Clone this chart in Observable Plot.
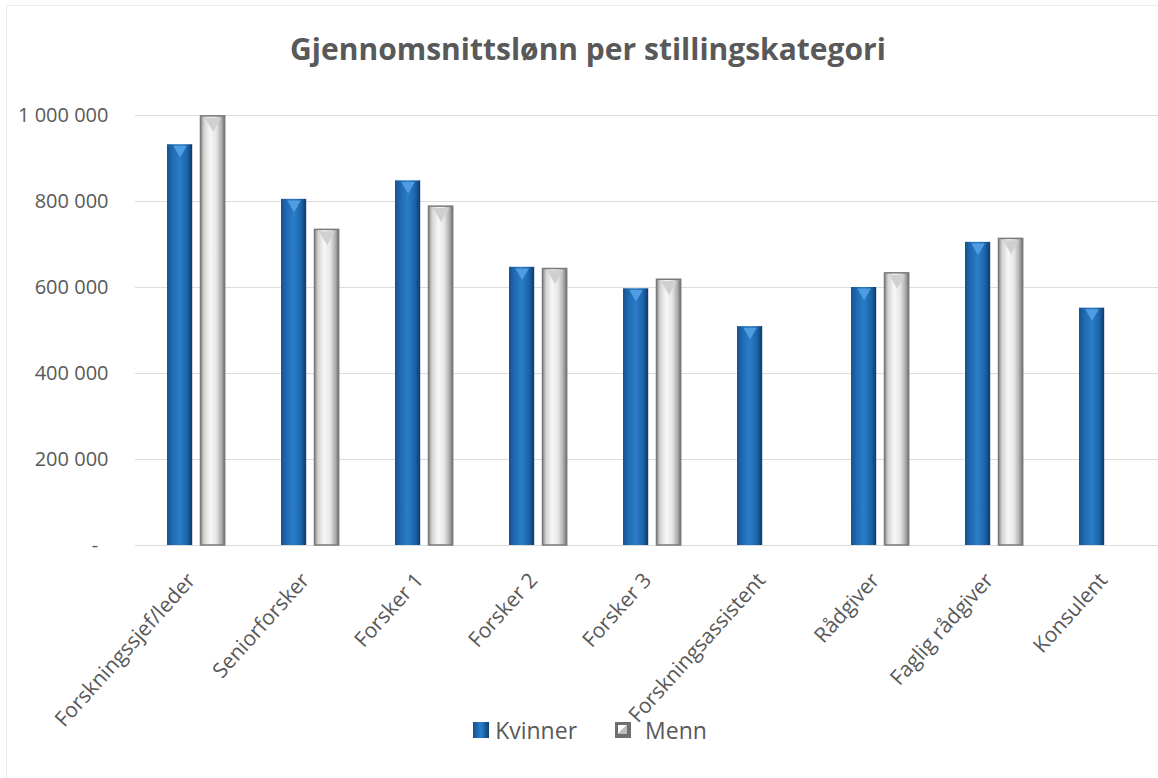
<!DOCTYPE html>
<html>
<head>
<meta charset="utf-8">
<script src="https://cdn.jsdelivr.net/npm/d3@7"></script>
<script src="https://cdn.jsdelivr.net/npm/@observablehq/plot@0.6"></script>
<style>
  html, body { margin: 0; padding: 0; background: #fff; }
  body { width: 1158px; height: 778px; overflow: hidden; position: relative; font-family: "Open Sans", sans-serif; }
  #frame { position: absolute; left: 6px; top: 5px; width: 1160px; height: 780px; border: 1px solid #ececec; pointer-events: none; }
  #title { height: 90px; box-sizing: border-box; padding-top: 30px; padding-left: 18px; text-align: center; font-size: 30px; font-weight: 700; color: #595959; line-height: 38px; }
  #chart { height: 620px; position: relative; z-index: 1; }
  #chart svg { overflow: visible; }
  #legend { display: flex; justify-content: center; align-items: center; gap: 0; height: 40px; font-size: 23px; color: #595959; margin-left: 22px; }
  .sw { width: 16px; height: 16px; display: inline-block; margin-right: 6px; }
  .sw.k { background: linear-gradient(90deg, #14508c, #2a80cc 50%, #0f3f70); }
  .sw.m { background: #6f6f6f; position: relative; margin-left: 38px; margin-right: 14px; }
  .sw.m::after { content: ""; position: absolute; left: 3px; top: 3px; width: 9px; height: 9px; background: linear-gradient(135deg, #fff 50%, #bdbdbd 50%); }
</style>
</head>
<body>
<svg width="0" height="0" style="position:absolute">
  <defs>
    <linearGradient id="blueGrad" x1="0" x2="1" y1="0" y2="0">
      <stop offset="0%" stop-color="#16528f"/>
      <stop offset="20%" stop-color="#1f68b0"/>
      <stop offset="50%" stop-color="#2a7dc9"/>
      <stop offset="80%" stop-color="#1c64aa"/>
      <stop offset="100%" stop-color="#0d3a68"/>
    </linearGradient>
    <linearGradient id="silverGrad" x1="0" x2="1" y1="0" y2="0">
      <stop offset="0%" stop-color="#8a8a8a"/>
      <stop offset="15%" stop-color="#d4d4d4"/>
      <stop offset="40%" stop-color="#f7f7f7"/>
      <stop offset="65%" stop-color="#e6e6e6"/>
      <stop offset="88%" stop-color="#a8a8a8"/>
      <stop offset="100%" stop-color="#6c6c6c"/>
    </linearGradient>
  </defs>
</svg>
<div id="frame"></div>
<div id="title">Gjennomsnittslønn per stillingskategori</div>
<div id="chart"></div>
<div id="legend"><span class="sw k"></span><span>Kvinner</span><span class="sw m"></span><span>Menn</span></div>
<script>
const categories = ["Forskningssjef/leder", "Seniorforsker", "Forsker 1", "Forsker 2", "Forsker 3", "Forskningsassistent", "Rådgiver", "Faglig rådgiver", "Konsulent"];
const kvinner = [932000, 805000, 848000, 647000, 597000, 509000, 600000, 705000, 552000];
const menn = [998000, 734000, 788000, 643000, 618000, null, 633000, 713000, null];
const yTicks = [0, 200000, 400000, 600000, 800000, 1000000];

const kData = categories.map((c, i) => ({cat: c, v: kvinner[i]}));
const mData = categories.map((c, i) => ({cat: c, v: menn[i]})).filter(d => d.v != null);

const fmt = d => d === 0 ? "-\u00a0\u00a0" : d3.format(",")(d).replace(/,/g, " ");

const plot = Plot.plot({
  width: 1158,
  height: 620,
  marginLeft: 135,
  marginRight: 0,
  marginTop: 25,
  marginBottom: 165,
  style: {fontFamily: "'Open Sans', sans-serif", background: "transparent", overflow: "visible"},
  x: {domain: categories, range: [135, 1168], padding: 0},
  y: {domain: [0, 1000000]},
  marks: [
    Plot.ruleY(yTicks, {stroke: "#dcdcdc", strokeWidth: 1}),
    Plot.axisY({ticks: yTicks, tickFormat: fmt, tickSize: 0, tickPadding: 27, fontSize: 20, color: "#595959", label: null}),
    Plot.axisX({tickRotate: -48, tickSize: 0, tickPadding: 31, dx: -5, fontSize: 21, color: "#595959", label: null}),
    Plot.barY(kData, {x: "cat", y: "v", fill: "url(#blueGrad)", insetLeft: 28, insetRight: 60.8}),
    Plot.barY(mData, {x: "cat", y: "v", fill: "url(#silverGrad)", stroke: "#7a7a7a", strokeWidth: 1.5, insetLeft: 61.5, insetRight: 28.3}),
    Plot.dot(kData, {x: "cat", y: "v", dx: -16.4, dy: 5, symbol: "triangle", rotate: 180, r: 5, fill: "#4f9de0"}),
    Plot.dot(mData, {x: "cat", y: "v", dx: 16.6, dy: 6, symbol: "triangle", rotate: 180, r: 6, fill: "#d0d0d0"})
  ]
});
document.getElementById("chart").appendChild(plot);
</script>
</body>
</html>
